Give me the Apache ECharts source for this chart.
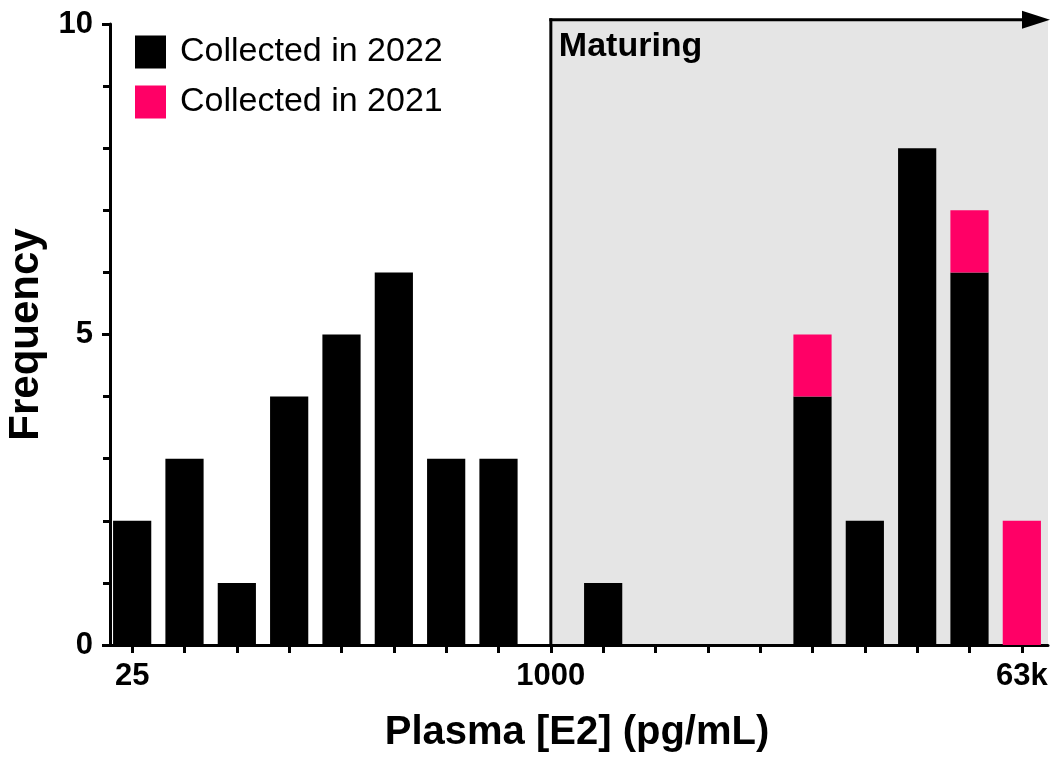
<!DOCTYPE html>
<html>
<head>
<meta charset="utf-8">
<script src="https://cdn.jsdelivr.net/npm/echarts@6/dist/echarts.min.js"></script>
<style>
html,body{margin:0;padding:0;background:#fff;}
#chart{width:1056px;height:767px;}
</style>
</head>
<body>
<div id="chart"></div>
<script>
// Bin centres (pg/mL), log-spaced 0.2 decades
const categories = ['25','40','63','100','158','251','398','631','1000','1585','2512','3981','6310','10000','15849','25119','39811','63096'];
const tickLabels = ['25','','','','','','','','1000','','','','','','','','','63k'];
const collected2022 = [2,3,1,4,5,6,3,3,0,1,0,0,0,4,2,8,6,0];
const collected2021 = [0,0,0,0,0,0,0,0,0,0,0,0,0,1,0,0,1,2];
const yTicks = [0,5,10];
const maturingStartIndex = 8;

const FONT = '"Liberation Sans", Arial, Helvetica, sans-serif';
const chart = echarts.init(document.getElementById('chart'));

const option = {
  animation: false,
  backgroundColor: '#ffffff',
  textStyle: { fontFamily: FONT },
  grid: { left: 106, right: 8, top: 24, bottom: 122, containLabel: false, outerBoundsMode: 'none' },
  legend: {
    orient: 'vertical',
    left: 130, top: 30,
    itemWidth: 31, itemHeight: 33, itemGap: 16,
    icon: 'rect',
    textStyle: { fontSize: 34, color: '#000', fontFamily: FONT, padding: [0,0,0,9] },
    data: ['Collected in 2022', 'Collected in 2021']
  },
  xAxis: {
    type: 'category',
    data: categories,
    boundaryGap: true,
    name: 'Plasma [E2] (pg/mL)',
    nameLocation: 'middle',
    nameGap: 68,
    nameTextStyle: { fontSize: 40, fontWeight: 'bold', color: '#000', fontFamily: FONT },
    axisLine: { lineStyle: { color: '#000', width: 3 } },
    axisTick: { show: true, alignWithLabel: true, interval: 0, length: 8, lineStyle: { color: '#000', width: 3 } },
    axisLabel: {
      interval: 0, margin: 16,
      fontSize: 31, fontWeight: 'bold', color: '#000', fontFamily: FONT,
      formatter: (v, i) => tickLabels[i]
    },
    splitLine: { show: false }
  },
  yAxis: {
    type: 'value',
    min: yTicks[0], max: yTicks[yTicks.length - 1], interval: yTicks[1] - yTicks[0],
    offset: -4,
    name: 'Frequency',
    nameLocation: 'middle',
    nameGap: 59,
    nameRotate: 90,
    nameTextStyle: { fontSize: 42, fontWeight: 'bold', color: '#000', fontFamily: FONT },
    axisLine: { show: true, lineStyle: { color: '#000', width: 3 } },
    axisTick: { show: true, length: 8, lineStyle: { color: '#000', width: 3 } },
    minorTick: { show: true, splitNumber: 5, length: 7, lineStyle: { color: '#000', width: 3 } },
    axisLabel: { margin: 17, fontSize: 31, fontWeight: 'bold', color: '#000', fontFamily: FONT },
    splitLine: { show: false }
  },
  series: [
    {
      name: 'Collected in 2022', type: 'bar', stack: 'n',
      data: collected2022, barCategoryGap: '27%',
      itemStyle: { color: '#000000' }, z: 3
    },
    {
      name: 'Collected in 2021', type: 'bar', stack: 'n',
      data: collected2021, barCategoryGap: '27%',
      itemStyle: { color: '#ff0066' }, z: 3
    }
  ]
};
chart.setOption(option);

function addGraphics() {
  const x0 = chart.convertToPixel({ xAxisIndex: 0 }, maturingStartIndex);
  const xa = chart.convertToPixel({ xAxisIndex: 0 }, 0);
  const xb = chart.convertToPixel({ xAxisIndex: 0 }, 1);
  const bw = xb - xa;
  const xEnd = chart.convertToPixel({ xAxisIndex: 0 }, categories.length - 1) + bw / 2;
  const yTop = chart.convertToPixel({ yAxisIndex: 0 }, 10.07);
  const yBot = chart.convertToPixel({ yAxisIndex: 0 }, 0);
  chart.setOption({
    graphic: [
      { type: 'rect', z: 0, silent: true,
        shape: { x: x0, y: yTop, width: xEnd - x0, height: yBot - yTop },
        style: { fill: '#e5e5e5' } },
      { type: 'line', z: 5, silent: true,
        shape: { x1: x0, y1: yTop - 1.5, x2: x0, y2: yBot },
        style: { stroke: '#000', lineWidth: 3 } },
      { type: 'line', z: 5, silent: true,
        shape: { x1: x0 - 1.5, y1: yTop, x2: xEnd - 24, y2: yTop },
        style: { stroke: '#000', lineWidth: 3 } },
      { type: 'polygon', z: 5, silent: true,
        shape: { points: [[xEnd - 26, yTop - 9], [xEnd + 2, yTop], [xEnd - 26, yTop + 9]] },
        style: { fill: '#000' } },
      { type: 'text', z: 5, silent: true,
        x: x0 + 8, y: yTop + 10,
        style: { text: 'Maturing', font: 'bold 34px ' + FONT, fill: '#000' } }
    ]
  });
}
addGraphics();
</script>
</body>
</html>
